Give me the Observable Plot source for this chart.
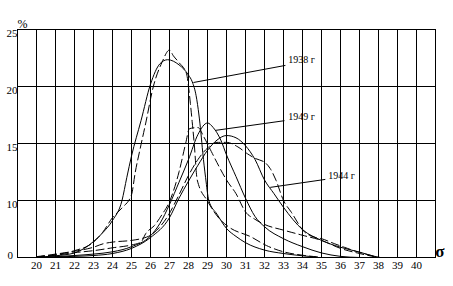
<!DOCTYPE html>
<html><head><meta charset="utf-8">
<script src="https://cdn.jsdelivr.net/npm/d3@7"></script>
<script src="https://cdn.jsdelivr.net/npm/@observablehq/plot@0.6"></script>
<style>body{margin:0;background:#fff}#chart svg{display:block}</style>
</head><body><div id="chart"></div>
<script>
// tick labels
const xTicks = [20,21,22,23,24,25,26,27,28,29,30,31,32,33,34,35,36,37,38,39,40];
const yTicks = [0, 10, 15, 20, 25];

// series: [sigma, percent]
const solid1938 = [[20,0.05],[21,0.3],[22,0.8],[23,2.8],[23.5,4.4],[24,6.5],[24.5,10.0],[24.75,12.0],[25,13.9],[25.5,17.0],[26,20.2],[26.5,22.0],[26.9,22.35],[27.5,21.9],[28,21.0],[28.2,20.4],[28.4,19.2],[28.55,17.5],[28.65,16.0],[28.75,14.2],[28.9,12.0],[29.07,10.0],[29.5,7.6],[30,5.1],[30.5,3.7],[31,2.6],[32,1.3],[33,0.7],[34,0.3],[34.7,0.1]];
const dashed1938 = [[20,0.15],[21,0.6],[22,1.2],[23,2.7],[23.5,4.5],[24,7.0],[24.5,8.7],[25,10.5],[25.2,12.5],[25.45,14.5],[25.75,16.8],[26.15,20.0],[26.6,22.1],[27,23.2],[27.2,22.7],[27.5,22.1],[27.9,21.1],[28.0,20.0],[28.1,18.5],[28.2,16.8],[28.3,15.0],[28.46,11.8],[29.0,9.9],[29.6,6.9],[30.1,5.4],[31.3,3.6],[32.1,2.1],[33,1.0],[34,0.4],[35,0.05]];
const solid1949 = [[20,0],[21,0.15],[22,0.35],[23,0.6],[24,1.0],[25,1.9],[26,3.8],[26.5,6.0],[27,9.3],[27.5,11.6],[28,13.6],[28.5,15.8],[29,16.8],[29.3,16.4],[29.7,15.3],[30,14.0],[30.5,12.1],[31,10.2],[31.5,7.2],[32,5.4],[33,3.3],[34,1.9],[35,0.8],[36,0.2],[37,0]];
const dashed1949 = [[20,0.1],[21,0.4],[22,0.85],[23,1.2],[24,1.7],[25,2.2],[25.5,2.7],[25.75,4.2],[26.2,5.6],[26.6,7.5],[27,9.8],[27.5,12.5],[27.85,15.0],[28.05,16.3],[28.5,16.4],[28.8,15.6],[29.2,14.3],[29.6,13.0],[30,11.8],[30.5,10.6],[31,8.0],[31.5,6.7],[32,5.8],[33,4.8],[34,3.9],[35,3.0],[36,1.6],[37,0.7],[38,0]];
const solid1944 = [[20,0],[21,0.1],[22,0.2],[23,0.35],[24,0.7],[25,1.6],[26,3.5],[27,7.0],[27.5,10.2],[28,11.7],[28.5,13.1],[29,14.4],[29.5,15.3],[30,15.7],[30.5,15.5],[31,14.8],[31.5,13.6],[32,11.8],[32.5,10.6],[33,8.8],[34,4.9],[35,3.0],[36,1.8],[37,0.95],[37.8,0.2],[38.1,0]];
const dashed1944 = [[20,0.1],[21,0.5],[22,1.1],[23,1.8],[23.5,2.4],[24,2.7],[25,3.0],[25.5,3.3],[26,3.9],[26.5,5.4],[26.9,7.2],[27.5,10.5],[28,12.2],[28.5,13.6],[29,14.6],[29.5,15.1],[30,15.1],[30.6,14.7],[31.1,14.1],[31.5,13.7],[32.05,13.3],[32.3,12.8],[32.6,11.8],[33,10.0],[33.4,8.0],[34.1,4.5],[34.6,3.6],[35,3.3],[35.7,2.4],[36.2,1.8],[36.8,1.1],[37.6,0.35],[38,0]];

// annotations (labels and leader lines, in data units)
const labels = ["1938 г", "1949 г", "1944 г"];
const labelX = [33.25, 33.25, 35.35];
const labelY = [22.3, 17.3, 12.2];
const leaderFrom = [[33.1, 21.85], [33.05, 17.0], [35.2, 11.85]];
const leaderTo = [[28.26, 20.35], [29.42, 16.15], [32.3, 11.15]];

const toRows = (pts, year) => pts.map(([x, y]) => ({x, y, year}));
const solidRows = [...toRows(solid1938, "1938"), ...toRows(solid1949, "1949"), ...toRows(solid1944, "1944")];
const dashedRows = [...toRows(dashed1938, "1938"), ...toRows(dashed1949, "1949"), ...toRows(dashed1944, "1944")];
const notes = labels.map((t, i) => ({t, lx: labelX[i], ly: labelY[i], x1: leaderFrom[i][0], y1: leaderFrom[i][1], x2: leaderTo[i][0], y2: leaderTo[i][1]}));

// the printed axis is not linear: the lowest band spans 0–10, the others 5 each
const yTransform = v => v <= 10 ? v / 2 : v - 5;

const serif = "Liberation Serif, Times New Roman, serif";

const chart = Plot.plot({
  width: 453, height: 286,
  marginTop: 29, marginBottom: 29, marginLeft: 17, marginRight: 18,
  style: {background: "#fff", color: "black"},
  x: {domain: [19, 41], axis: null},
  y: {transform: yTransform, domain: [yTransform(0), yTransform(25)], axis: null},
  marks: [
    Plot.ruleX(xTicks, {stroke: "black", strokeWidth: 1}),
    Plot.ruleY(yTicks, {stroke: "black", strokeWidth: 1}),
    Plot.frame({stroke: "black", strokeWidth: 1}),
    Plot.line(solidRows, {x: "x", y: "y", z: "year", curve: "monotone-x", stroke: "black", strokeWidth: 1}),
    Plot.line(dashedRows, {x: "x", y: "y", z: "year", curve: "monotone-x", stroke: "black", strokeWidth: 1, strokeDasharray: "8,4"}),
    Plot.link(notes, {x1: "x1", y1: "y1", x2: "x2", y2: "y2", stroke: "black", strokeWidth: 1}),
    Plot.text(notes, {x: "lx", y: "ly", text: "t", textAnchor: "start", fontFamily: serif, fontSize: 10, fill: "black"}),
    Plot.text(xTicks, {x: d => d, frameAnchor: "bottom", dy: 11, text: d => String(d), fontFamily: serif, fontSize: 11, fill: "black"}),
    Plot.text(yTicks.filter(d => d !== 0), {y: d => d, frameAnchor: "left", dx: -11, dy: 4, textAnchor: "start", text: d => String(d), fontFamily: serif, fontSize: 11, fill: "black"}),
    Plot.text(yTicks.filter(d => d === 0), {y: d => d, frameAnchor: "left", dx: -10, dy: -2, textAnchor: "start", text: d => String(d), fontFamily: serif, fontSize: 11, fill: "black"}),
    Plot.text(["%"], {frameAnchor: "top-left", dx: 0, dy: -10, text: d => d, fontFamily: serif, fontSize: 12, fill: "black"}),
    Plot.text(["σ"], {frameAnchor: "bottom-right", dx: 9, dy: -1, text: d => d, fontFamily: serif, fontSize: 17, fontWeight: "bold", fill: "black"})
  ]
});
document.getElementById("chart").append(chart);
</script>
</body></html>
